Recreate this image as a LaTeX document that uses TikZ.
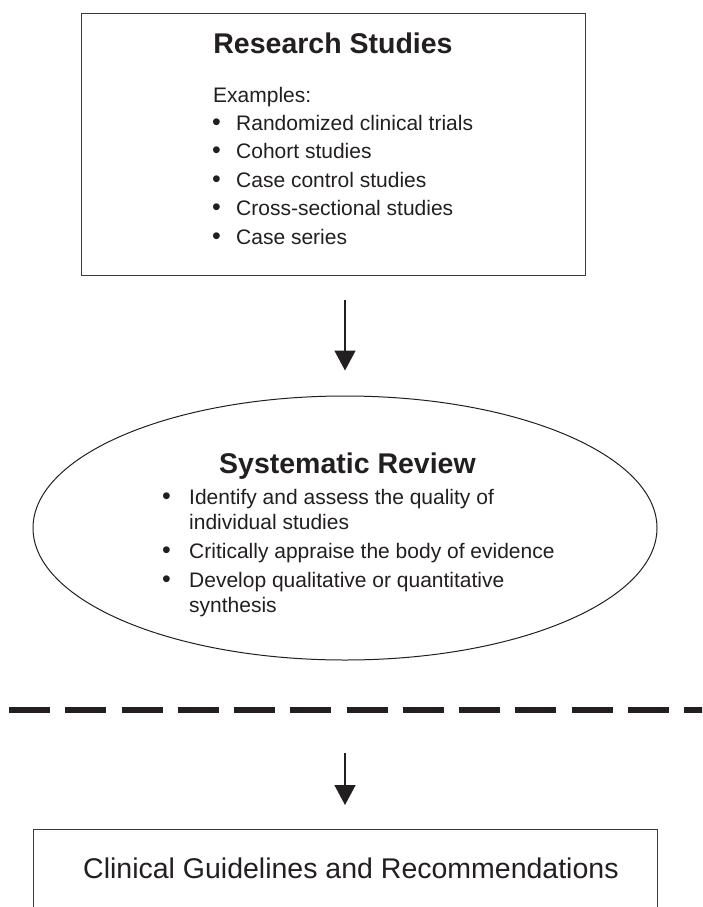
\documentclass[tikz,border=0pt]{standalone}
\usepackage{fontspec}
\setmainfont{Liberation Sans}
\usetikzlibrary{shapes.geometric,arrows.meta}
\definecolor{ink}{HTML}{231F20}
\definecolor{frame}{HTML}{3A3A3A}
\begin{document}
\begin{tikzpicture}[x=1pt,y=-1pt,
  boxline/.style={draw=frame, line width=1.3pt, inner sep=0pt},
  ttl/.style={font=\fontsize{28.5}{34}\selectfont\bfseries, text=ink, inner sep=0pt, anchor=base},
  itm/.style={font=\fontsize{21}{25}\selectfont, text=ink, inner sep=0pt, anchor=base west},
  dot/.style={font=\fontsize{25}{25}\selectfont, text=ink, inner sep=0pt, anchor=base west},
  bigtxt/.style={font=\fontsize{28.5}{34}\selectfont, text=ink, inner sep=0pt, anchor=base west},
  flow/.style={draw=ink, line width=1.5pt, -{Triangle[length=20pt,width=21pt]}},
  dashrule/.style={draw=ink, line width=6pt, dash pattern=on 41pt off 15.25pt}]
\clip (0,0) rectangle (702,907);
\fill[white] (0,0) rectangle (702,907);

% Research Studies box
\node[boxline, minimum width=504pt, minimum height=262pt, anchor=north west] (rs) at (81,13) {};
\node[ttl] (rst) at (333,54) {Research Studies};
\node[itm] (ex) at (213,102) {Examples:};
\foreach \y/\t [count=\i] in {130/Randomized clinical trials, 158.5/Cohort studies, 187/Case control studies, 215.5/Cross-sectional studies, 244/Case series}{
  \node[dot] (rb\i) at (212,\y) {•};
  \node[itm] (rt\i) at (236,\y) {\t};
}

% Systematic Review ellipse
\node[ellipse, draw=ink, line width=1pt, minimum width=624pt, minimum height=264pt, inner sep=0pt] (sr) at (345,528) {};
\node[ttl] (srt) at (347.5,473) {Systematic Review};
\node[dot] (sb1) at (162,504) {•};
\node[itm] (st1) at (189,504) {Identify and assess the quality of};
\node[itm] (st1b) at (189,529) {individual studies};
\node[dot] (sb2) at (162,558) {•};
\node[itm] (st2) at (189,558) {Critically appraise the body of evidence};
\node[dot] (sb3) at (162,587) {•};
\node[itm] (st3) at (189,587) {Develop qualitative or quantitative};
\node[itm] (st3b) at (189,612) {synthesis};

% dashed divider
\coordinate (dl) at (9,710);
\coordinate (dr) at (710,710);
\draw[dashrule] (dl) -- (dr);

% Clinical Guidelines box
\node[boxline, minimum width=624pt, minimum height=120pt, anchor=north west] (cg) at (33,829) {};
\node[bigtxt] (cgt) at (83,878) {Clinical Guidelines and Recommendations};

% arrows
\draw[flow, shorten <=24pt, shorten >=25pt] (rs.south -| sr.north) -- (sr.north);
\coordinate (a2s) at (345,753);
\draw[flow, shorten >=24pt] (a2s) -- (cg.north -| a2s);
\end{tikzpicture}
\end{document}
